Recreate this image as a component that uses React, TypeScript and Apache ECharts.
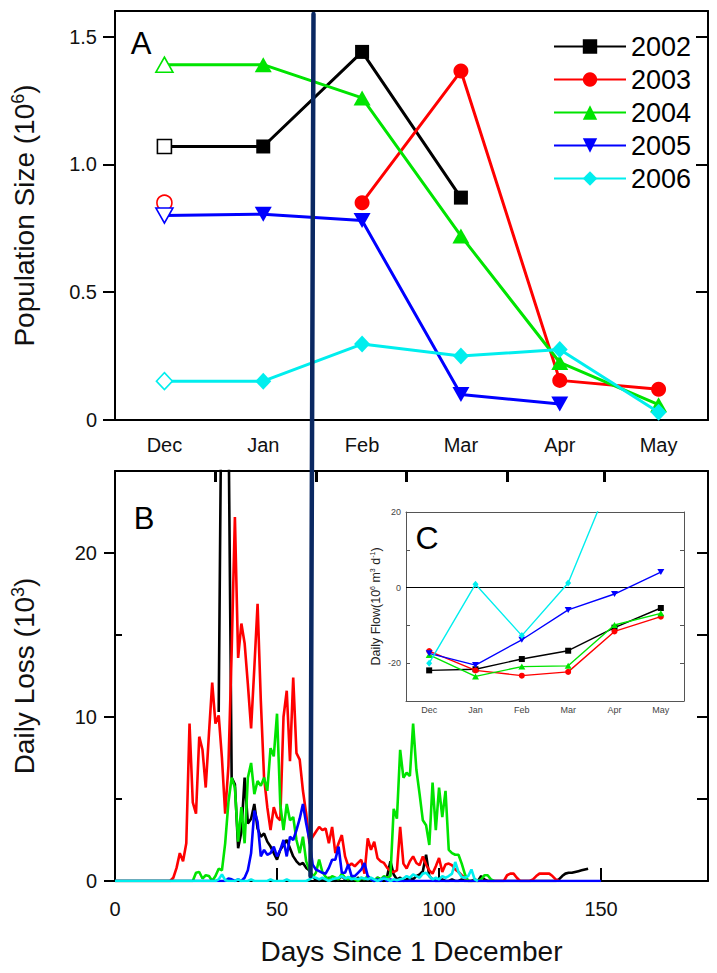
import React, { useEffect, useRef } from 'react';
import * as echarts from 'echarts';

const FONT = '"Liberation Sans", Arial, Helvetica, sans-serif';

// ---------- Panel A : population size (10^6) ----------
const months = ['Dec', 'Jan', 'Feb', 'Mar', 'Apr', 'May'];
const years = ['2002', '2003', '2004', '2005', '2006'];
const yearColors = ['#000000', '#ff0000', '#00e400', '#0000ff', '#00eeee'];
const pop2002 = [1.07, 1.07, 1.44, 0.87, null, null];
const pop2003 = [0.85, null, 0.85, 1.365, 0.155, 0.12];
const pop2004 = [1.39, 1.39, 1.26, 0.72, 0.225, 0.06];
const pop2005 = [0.8, 0.805, 0.78, 0.1, 0.063, null];
const pop2006 = [0.152, 0.152, 0.297, 0.25, 0.276, 0.03];
const popTicks = [0, 0.5, 1, 1.5];

// ---------- Panel B : daily loss (10^3) by day since 1 December ----------
const lossOrigin = 0;
const lossStart2002 = 32;
const loss2002 = [
  10.3, 34, 31, 29, 6.3, 5.9, 2.0, 3.0, 6.3, 3.5, 3.8, 4.7, 3.2, 2.7, 2.9, 2.4, 2.1, 1.7, 1.3, 1.9,
  2.2, 2.5, 2.0, 1.5, 1.2, 1.0, 1.1, 0.8, 0.65, 0.3, 0.05,
  0, 0.1, 0, 0.2, 0.1, 0, 0.1, 0.3, 0.1, 0, 0.1, 0, 0.2, 0.1, 0, 0.3, 0.1, 0, 0.2, 0.1, 0,
  0.3, 1.2, 0.4, 0.1, 0.2, 0, 0.1, 0.2, 0.1, 0.3, 0.4, 0.6, 1.6, 0.3, 0.1, 0,
  0, 0.1, 0, 0, 0.1, 0, 0, 0.1, 0, 0, 0, 0.1, 0, 0.3, 0.1,
  0, 0, 0, 0, 0, 0, 0, 0, 0, 0, 0, 0, 0, 0, 0, 0, 0, 0, 0, 0, 0,
  0, 0.1, 0.3, 0.45, 0.5, 0.5, 0.55, 0.6, 0.65, 0.7, 0.75,
];
const lossStart2003 = 17;
const loss2003 = [
  0, 0.2, 0.8, 1.7, 1.2, 2.3, 9.6, 4.8, 4.1, 8.8, 8.0, 5.7, 9.0, 12.1, 9.6, 10.1, 7.5, 4.1, 7.0, 14.0,
  22.2, 13.6, 15.7, 14.5, 12.0, 9.3, 13.0, 16.9, 11.0, 6.3, 4.5, 3.1, 4.5, 3.9, 3.7, 10.0, 11.6, 7.3, 12.4, 7.8,
  7.4, 5.5, 4.1, 2.3, 2.7, 3.0, 3.3, 3.1, 3.2, 2.3, 3.3, 1.7, 2.3, 2.8, 1.5, 0.9, 1.06, 0.9, 1.1, 1.3,
  0.45, 2.6, 1.9, 2.4, 1.4, 1.2, 1.1, 0.8, 0.6, 0.55, 0.65, 3.3, 1.06, 0.76, 1.2, 1.5, 1.1, 0.96, 1.5, 1.0,
  0.65, 0.45, 0.9, 1.4, 0.55, 1.0, 1.06, 0.96, 0.7, 0.55, 0.35, 0.2, 0,
  0, 0, 0, 0, 0, 0, 0, 0, 0, 0, 0, 0.35, 0.45, 0.45, 0.2, 0, 0, 0, 0, 0.1, 0.3, 0.45, 0.45, 0.45, 0.45, 0.3, 0.1, 0,
];
const lossStart2004 = 24;
const loss2004 = [
  0, 0.5, 0.55, 0.15, 0.35, 0.3, 0, 0.3, 0.75, 0.65, 2.3, 4.8, 6.3, 5.7, 2.4, 4.5, 2.3, 6.3, 7.2, 5.3,
  6.1, 5.8, 6.3, 5.5, 8.1, 7.6, 10.2, 4.7, 3.1, 4.7, 3.7, 3.9, 2.5, 1.7, 2.7, 1.2, 0.65, 0.24, 0.5, 1.3,
  0.55, 0.25, 0.1, 0.3, 0.2, 0.1, 0.45, 0.2, 0.1, 0.3, 0.1, 0, 0.2, 0.1, 0.3, 0.1, 0, 0.2, 0.1, 0.3,
  0.2, 0.3, 4.4, 3.8, 8.0, 6.3, 6.6, 6.4, 9.6, 6.8, 5.3, 3.7, 3.4, 2.2, 6.0, 3.1, 5.7, 3.9, 5.5, 1.9,
  1.7, 1.6, 1.6, 1.06, 0.4, 0, 0, 0, 0, 0.1, 0.35, 0.35, 0.1, 0,
];
const lossStart2005 = 34;
const loss2005 = [
  0, 0.15, 0.1, 0, 0.1, 0, 0.2, 0.65, 1.7, 4.3, 3.6, 1.5, 1.9, 1.6, 1.7, 2.1, 1.5, 1.9, 2.5, 1.5,
  2.7, 2.5, 3.1, 3.8, 4.7, 3.5, 2.5, 1.0, 0.7, 0.6, 0.5, 0.45, 0.8, 1.3, 1.3, 2.1, 0.5, 0.5, 1.0, 0.3,
  0.3, 0.5, 0.7, 1.1, 0.3, 0.1, 0, 0.1, 0, 0.2, 0, 0.1, 0,
];
const loss2005End = 150;
const lossStart2006 = 31;
const loss2006 = [
  0, 0.1, 0.4, 0.05, 0, 0, 0, 0.1, 0, 0, 0, 0.1, 0, 0, 0, 0, 0, 0.1, 0, 0,
  0, 0, 0.1, 0, 0, 0, 0, 0, 0, 0.1, 0.25, 0.2, 0.1, 0.2, 0.1, 0, 0.1, 0.15, 0.2, 0.3,
  0.15, 0.25, 0.1, 0.15, 0.1, 0.2, 0.15, 0.1, 0.2, 0.1, 0, 0.1, 0.15, 0.1, 0, 0.1, 0.05, 0.1, 0.15, 0.3,
  0.2, 0.4, 0.3, 0.2, 0.45, 0.5, 0.3, 0.1, 0.2, 0.1, 0.3, 0.2, 0.3, 0.45, 1.16, 0.55, 0.24, 0.2, 0.3, 0.7,
  0.1, 0,
];
const dayLabels = [0, 50, 100, 150];
const monthStartDays = [31, 62, 90, 121, 151];
const lossLabels = [0, 10, 20];

// ---------- Panel C : daily flow (10^6 m^3 d^-1) ----------
const flow2002 = [-21.9, -21.6, -18.9, -16.7, -10.6, -5.4];
const flow2003 = [-16.8, -21.9, -23.3, -22.3, -11.6, -7.7];
const flow2004 = [-17.8, -23.5, -20.9, -20.7, -9.9, -6.8];
const flow2005 = [-17.4, -20.5, -13.8, -5.9, -1.7, 4.1];
const flow2006 = [-20, 0.9, -12.7, 1.2, 31, 38];
const flowLabels = [-20, 0, 20];

const popData = [pop2002, pop2003, pop2004, pop2005, pop2006];
const flowData = [flow2002, flow2003, flow2004, flow2005, flow2006];
const lossArrays = [loss2002, loss2003, loss2004, loss2005, loss2006];
const lossStarts = [lossStart2002, lossStart2003, lossStart2004, lossStart2005, lossStart2006];

const TRI_DOWN = 'path://M0,0L10,0L5,9Z';
const symbolsA: any[] = ['rect', 'circle', 'triangle', TRI_DOWN, 'diamond'];
const sizesA: any[] = [14, 15, [17, 15], [17, 15], [16, 17]];
const sizesC: any[] = [6, 6, [7, 6], [7, 6], [6, 7]];

function buildLoss(i: number) {
  const pts: any[] = [];
  if (i > 0) pts.push([lossOrigin, 0]);
  lossArrays[i].forEach((v, k) => pts.push([lossStarts[i] + k, v]));
  if (i === 3) pts.push([loss2005End, 0]);
  return pts;
}

function buildOption() {
  const blackLine = { color: '#000', width: 2 };
  const txt = { fontFamily: FONT, color: '#111' };
  const supRich = (fs: number, pad: number) => ({
    sup: { fontSize: fs, fontFamily: FONT, color: '#111', padding: [0, 0, pad, 0] },
  });

  const series: any[] = [];
  years.forEach((y, i) => {
    const c = yearColors[i];
    series.push({
      name: y,
      type: 'line',
      xAxisIndex: 0,
      yAxisIndex: 0,
      symbol: symbolsA[i],
      symbolSize: sizesA[i],
      connectNulls: false,
      lineStyle: { color: c, width: 3 },
      itemStyle: { color: c },
      z: 3 + i,
      data: popData[i].map((v, k) =>
        k === 0 && v !== null
          ? { value: v, itemStyle: { color: '#ffffff', borderColor: c, borderWidth: 1.6 } }
          : v
      ),
    });
  });
  years.forEach((y, i) => {
    const c = yearColors[i];
    series.push({
      name: 'B' + y,
      type: 'line',
      xAxisIndex: 2,
      yAxisIndex: 2,
      showSymbol: false,
      symbol: 'none',
      lineStyle: { color: c, width: 2.6 },
      itemStyle: { color: c },
      z: 2 + i,
      data: buildLoss(i),
    });
  });
  years.forEach((y, i) => {
    const c = yearColors[i];
    const s: any = {
      name: 'C' + y,
      type: 'line',
      xAxisIndex: 4,
      yAxisIndex: 5,
      symbol: symbolsA[i],
      symbolSize: sizesC[i],
      lineStyle: { color: c, width: 1.4 },
      itemStyle: { color: c },
      z: 3 + i,
      data: flowData[i],
    };
    if (i === 0) {
      s.markLine = {
        silent: true,
        symbol: 'none',
        label: { show: false },
        lineStyle: { color: '#000', width: 1, type: 'solid' },
        data: [{ yAxis: 0 }],
      };
    }
    series.push(s);
  });

  return {
    animation: false,
    backgroundColor: '#ffffff',
    textStyle: { fontFamily: FONT },
    legend: {
      data: years,
      orient: 'vertical',
      left: 553,
      top: 33,
      padding: 0,
      itemWidth: 72,
      itemHeight: 18,
      itemGap: 6,
      textStyle: { fontSize: 27, color: '#000', fontFamily: FONT },
      selectedMode: false,
    },
    grid: [
      { left: 115, top: 11, width: 593, height: 409, outerBoundsMode: 'none' },
      { left: 115, top: 471, width: 593, height: 410, outerBoundsMode: 'none' },
      { left: 406, top: 512, width: 278, height: 189, outerBoundsMode: 'none' },
    ],
    xAxis: [
      {
        type: 'category', gridIndex: 0, position: 'bottom', data: months,
        axisLine: { onZero: false, lineStyle: blackLine },
        axisTick: { inside: true, alignWithLabel: true, length: 12, lineStyle: blackLine },
        axisLabel: { ...txt, fontSize: 20, margin: 15 },
        splitLine: { show: false },
      },
      {
        type: 'category', gridIndex: 0, position: 'top', data: months,
        axisLine: { onZero: false, lineStyle: blackLine },
        axisTick: { inside: true, alignWithLabel: true, length: 12, lineStyle: blackLine },
        axisLabel: { show: false },
        splitLine: { show: false },
      },
      {
        type: 'value', gridIndex: 1, position: 'bottom', min: 0, max: 183,
        axisLine: { onZero: false, lineStyle: blackLine },
        axisTick: { inside: true, length: 13, customValues: [50, 100, 150], lineStyle: blackLine },
        axisLabel: { ...txt, fontSize: 20, margin: 18, customValues: dayLabels },
        splitLine: { show: false },
        name: 'Days Since 1 December',
        nameLocation: 'middle',
        nameGap: 56,
        nameTextStyle: { ...txt, fontSize: 28 },
      },
      {
        type: 'value', gridIndex: 1, position: 'top', min: 0, max: 183,
        axisLine: { onZero: false, lineStyle: blackLine },
        axisTick: { inside: true, length: 11, customValues: monthStartDays, lineStyle: { color: '#000', width: 3 } },
        axisLabel: { show: false },
        splitLine: { show: false },
      },
      {
        type: 'category', gridIndex: 2, position: 'bottom', data: months,
        axisLine: { onZero: false, lineStyle: { color: '#555', width: 1 } },
        axisTick: { inside: true, alignWithLabel: true, length: 4, lineStyle: { color: '#555', width: 1 } },
        axisLabel: { fontFamily: FONT, color: '#444', fontSize: 9, margin: 4 },
        splitLine: { show: false },
      },
      {
        type: 'category', gridIndex: 2, position: 'top', data: months,
        axisLine: { onZero: false, lineStyle: { color: '#555', width: 1 } },
        axisTick: { inside: true, alignWithLabel: true, length: 4, lineStyle: { color: '#555', width: 1 } },
        axisLabel: { show: false },
        splitLine: { show: false },
      },
    ],
    yAxis: [
      {
        type: 'value', gridIndex: 0, position: 'left', min: 0, max: 1.6,
        axisLine: { show: true, onZero: false, lineStyle: blackLine },
        axisTick: { show: true, inside: false, length: 12, customValues: popTicks, lineStyle: blackLine },
        axisLabel: {
          ...txt, fontSize: 20, margin: 18, customValues: popTicks,
          formatter: (v: number) => (v === 0 ? '0' : v.toFixed(1)),
        },
        splitLine: { show: false },
        name: 'Population Size (10{sup|6})',
        nameLocation: 'middle',
        nameGap: 75,
        nameTextStyle: { ...txt, fontSize: 28, rich: supRich(18, 13) },
      },
      {
        type: 'value', gridIndex: 0, position: 'right', min: 0, max: 1.6,
        axisLine: { show: true, onZero: false, lineStyle: blackLine },
        axisTick: { show: true, inside: true, length: 12, customValues: [0.5, 1, 1.5], lineStyle: blackLine },
        axisLabel: { show: false },
        splitLine: { show: false },
      },
      {
        type: 'value', gridIndex: 1, position: 'left', min: 0, max: 25,
        axisLine: { show: true, onZero: false, lineStyle: blackLine },
        axisTick: { show: true, inside: false, length: 11, customValues: lossLabels, lineStyle: blackLine },
        axisLabel: { ...txt, fontSize: 20, margin: 18, customValues: lossLabels },
        splitLine: { show: false },
        name: 'Daily Loss (10{sup|3})',
        nameLocation: 'middle',
        nameGap: 75,
        nameTextStyle: { ...txt, fontSize: 28, rich: supRich(18, 13) },
      },
      {
        type: 'value', gridIndex: 1, position: 'left', min: 0, max: 25,
        axisLine: { show: false, onZero: false },
        axisTick: { show: true, inside: true, length: 7, customValues: [5, 15], lineStyle: blackLine },
        axisLabel: { show: false },
        splitLine: { show: false },
      },
      {
        type: 'value', gridIndex: 1, position: 'right', min: 0, max: 25,
        axisLine: { show: true, onZero: false, lineStyle: blackLine },
        axisTick: { show: true, inside: true, length: 11, customValues: [5, 10, 15, 20], lineStyle: blackLine },
        axisLabel: { show: false },
        splitLine: { show: false },
      },
      {
        type: 'value', gridIndex: 2, position: 'left', min: -30, max: 20, interval: 10,
        axisLine: { show: true, onZero: false, lineStyle: { color: '#555', width: 1 } },
        axisTick: { show: true, inside: true, length: 4, lineStyle: { color: '#555', width: 1 } },
        axisLabel: { fontFamily: FONT, color: '#444', fontSize: 9, margin: 5, customValues: flowLabels },
        splitLine: { show: false },
        name: 'Daily Flow(10{sup|6} m{sup|3} d{sup|-1})',
        nameLocation: 'middle',
        nameGap: 24,
        nameTextStyle: { fontFamily: FONT, color: '#222', fontSize: 12.5, rich: {
          sup: { fontSize: 7, fontFamily: FONT, color: '#222', padding: [0, 0, 6, 0] },
        } },
      },
      {
        type: 'value', gridIndex: 2, position: 'right', min: -30, max: 20, interval: 10,
        axisLine: { show: true, onZero: false, lineStyle: { color: '#555', width: 1 } },
        axisTick: { show: true, inside: true, length: 4, lineStyle: { color: '#555', width: 1 } },
        axisLabel: { show: false },
        splitLine: { show: false },
      },
    ],
    graphic: [
      { type: 'text', x: 141, y: 43, z: 50, style: { text: 'A', fontSize: 31, fontFamily: FONT, fill: '#000', align: 'center', verticalAlign: 'middle' } },
      { type: 'text', x: 144, y: 518, z: 50, style: { text: 'B', fontSize: 31, fontFamily: FONT, fill: '#000', align: 'center', verticalAlign: 'middle' } },
      { type: 'text', x: 427, y: 538, z: 50, style: { text: 'C', fontSize: 32, fontFamily: FONT, fill: '#000', align: 'center', verticalAlign: 'middle' } },
      {
        type: 'line', z: 100,
        shape: { x1: 313.5, y1: 14, x2: 310.5, y2: 876 },
        style: { stroke: '#0a2862', lineWidth: 4.5, lineCap: 'round' },
      },
    ],
    series,
  };
}

export default function App() {
  const ref = useRef<HTMLDivElement>(null);
  useEffect(() => {
    if (!ref.current) return;
    const chart = echarts.init(ref.current, undefined, { renderer: 'svg' });
    chart.setOption(buildOption() as any);
    return () => chart.dispose();
  }, []);
  return (
    <div
      ref={ref}
      style={{ position: 'absolute', left: 0, top: 0, width: 717, height: 973, background: '#fff' }}
    />
  );
}
